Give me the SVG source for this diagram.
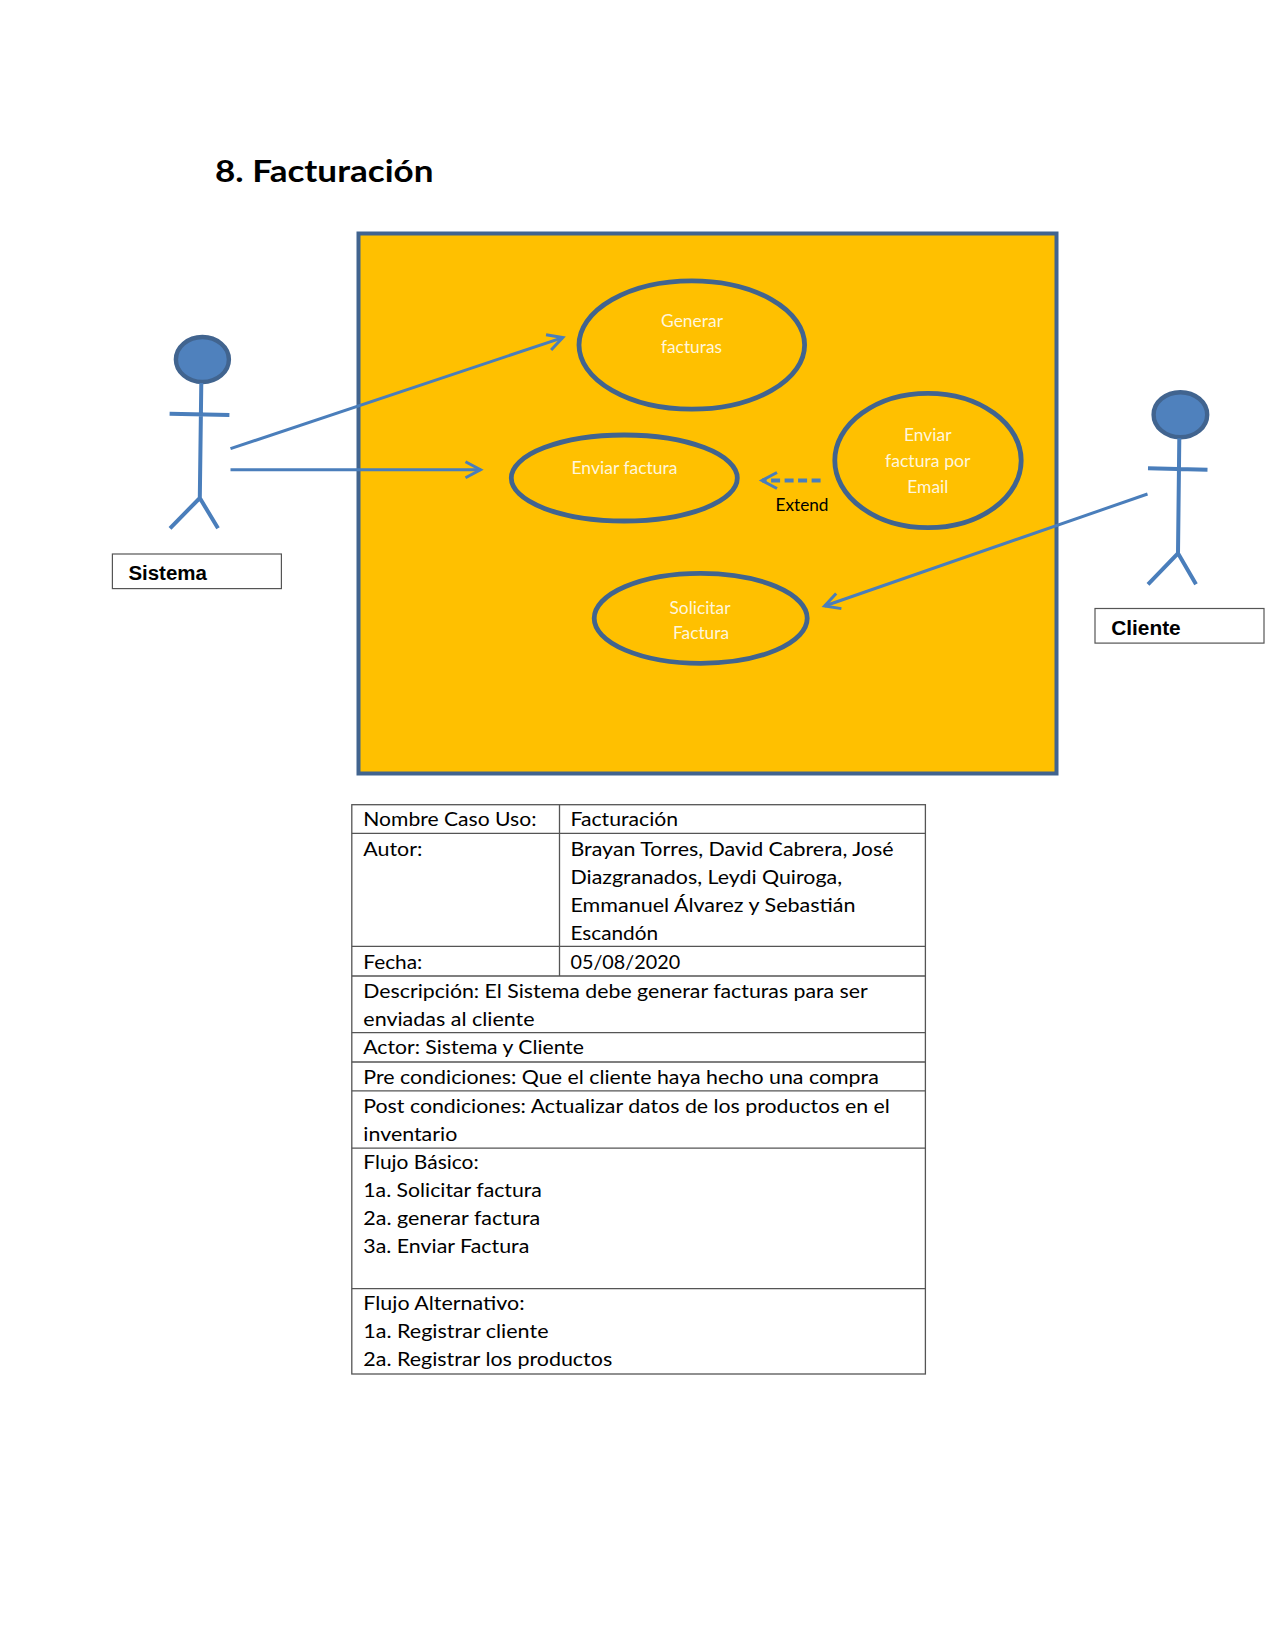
<svg xmlns="http://www.w3.org/2000/svg" width="1275" height="1650" viewBox="0 0 1275 1650">
<style>
text{font-family:"Lato","Carlito","Liberation Sans",sans-serif}
.title{font-size:30px;font-weight:700;fill:#000}
.uc{fill:none;stroke:#41648f;stroke-width:4.8}
.ut{font-size:17px;fill:#fff6dc}
.limb{fill:none;stroke:#4a7ebb;stroke-width:4}
.head{fill:#4f81bd;stroke:#41648f;stroke-width:4.4}
.lbl{fill:#fff;stroke:#555;stroke-width:1.2}
.lt{font-family:"Liberation Sans",Arial,sans-serif;font-size:20px;font-weight:700;fill:#000}
.conn{fill:none;stroke:#4a7ebb;stroke-width:3;marker-end:url(#open)}
.cell{fill:none;stroke:#555;stroke-width:1.3}
.tt{font-size:19.5px;fill:#000}
</style>
<defs>
<marker id="open" markerUnits="userSpaceOnUse" markerWidth="22" markerHeight="22" refX="16" refY="10" orient="auto" overflow="visible">
<path d="M1,2 L16,10 L1,18" fill="none" stroke="#4a7ebb" stroke-width="3"/>
</marker>
</defs>
<rect width="1275" height="1650" fill="#fff"/>
<text class="title" x="215" y="182" textLength="218.5" lengthAdjust="spacingAndGlyphs">8. Facturación</text>
<g id="system-boundary"><rect x="358.5" y="233.5" width="698" height="540" fill="#FFC000" stroke="#41648f" stroke-width="4"/></g>
<g id="uc-generar"><ellipse class="uc" cx="691.8" cy="345" rx="112.8" ry="64.2"/>
<text class="ut" x="661" y="326.7" textLength="62" lengthAdjust="spacingAndGlyphs">Generar</text>
<text class="ut" x="661" y="352.7" textLength="61" lengthAdjust="spacingAndGlyphs">facturas</text></g>
<g id="uc-enviar"><ellipse class="uc" cx="624.3" cy="478" rx="113" ry="43"/>
<text class="ut" x="571.5" y="473.7" textLength="106" lengthAdjust="spacingAndGlyphs">Enviar factura</text></g>
<g id="uc-email"><ellipse class="uc" cx="928" cy="460.5" rx="93.2" ry="67.2"/>
<text class="ut" x="904" y="441" textLength="47.5" lengthAdjust="spacingAndGlyphs">Enviar</text>
<text class="ut" x="885" y="466.7" textLength="85.5" lengthAdjust="spacingAndGlyphs">factura por</text>
<text class="ut" x="907.3" y="492.7" textLength="41" lengthAdjust="spacingAndGlyphs">Email</text></g>
<g id="uc-solicitar"><ellipse class="uc" cx="700.7" cy="618.3" rx="106.5" ry="45"/>
<text class="ut" x="669.5" y="614" textLength="61" lengthAdjust="spacingAndGlyphs">Solicitar</text>
<text class="ut" x="673" y="638.7" textLength="56" lengthAdjust="spacingAndGlyphs">Factura</text></g>
<g id="actor-sistema"><ellipse class="head" cx="202.4" cy="359.5" rx="26.5" ry="22.5"/>
<path class="limb" d="M201.3,383 L199.8,498 M169.6,413.7 L229.4,415 M170,528.3 L199.8,498 L218,528.3"/>
<rect class="lbl" x="112.4" y="554" width="169" height="34.6"/>
<text class="lt" x="128.4" y="580.2" textLength="78.5" lengthAdjust="spacingAndGlyphs">Sistema</text></g>
<g id="actor-cliente"><ellipse class="head" cx="1180.4" cy="414.7" rx="26.8" ry="22.5"/>
<path class="limb" d="M1179.3,438.3 L1178,553.3 M1148,468.3 L1207.5,469.7 M1148,584.3 L1178,553.3 L1196,584.3"/>
<rect class="lbl" x="1095" y="608.5" width="169" height="34.6"/>
<text class="lt" x="1111.2" y="634.6" textLength="69.5" lengthAdjust="spacingAndGlyphs">Cliente</text></g>
<g id="connectors">
<line class="conn" x1="230.5" y1="448.7" x2="562.8" y2="337.6"/>
<line class="conn" x1="230.5" y1="469.7" x2="480.5" y2="469.7"/>
<line class="conn" x1="1147.5" y1="494" x2="824.6" y2="606"/>
<line class="conn" x1="820.6" y1="480.5" x2="762" y2="480.5" stroke-dasharray="9 4.5" style="stroke-width:3.8"/>
</g>
<text id="extend-label" x="775.5" y="511" font-size="17" fill="#000" textLength="53" lengthAdjust="spacingAndGlyphs">Extend</text>
<g id="table">
<rect class="cell" x="351.8" y="804.7" width="573.6" height="569.3"/>
<path class="cell" d="M559.5,804.7 V975.7 M351.8,833.3 H925.4 M351.8,946.3 H925.4 M351.8,976 H925.4 M351.8,1032.6 H925.4 M351.8,1062 H925.4 M351.8,1090.8 H925.4 M351.8,1148.2 H925.4 M351.8,1288.7 H925.4"/>
<text class="tt" x="363.3" y="826.4" textLength="173.2" lengthAdjust="spacingAndGlyphs">Nombre Caso Uso:</text>
<text class="tt" x="570.5" y="826.4" textLength="107.6" lengthAdjust="spacingAndGlyphs">Facturación</text>
<text class="tt" x="363.3" y="856" textLength="59" lengthAdjust="spacingAndGlyphs">Autor:</text>
<text class="tt" x="570.5" y="856" textLength="323" lengthAdjust="spacingAndGlyphs">Brayan Torres, David Cabrera, José</text>
<text class="tt" x="570.5" y="884" textLength="271.5" lengthAdjust="spacingAndGlyphs">Diazgranados, Leydi Quiroga,</text>
<text class="tt" x="570.5" y="912" textLength="285" lengthAdjust="spacingAndGlyphs">Emmanuel Álvarez y Sebastián</text>
<text class="tt" x="570.5" y="939.7" textLength="87.6" lengthAdjust="spacingAndGlyphs">Escandón</text>
<text class="tt" x="363.3" y="969" textLength="59" lengthAdjust="spacingAndGlyphs">Fecha:</text>
<text class="tt" x="570.5" y="969" textLength="109.6" lengthAdjust="spacingAndGlyphs">05/08/2020</text>
<text class="tt" x="363.3" y="997.7" textLength="504.5" lengthAdjust="spacingAndGlyphs">Descripción: El Sistema debe generar facturas para ser</text>
<text class="tt" x="363.3" y="1025.7" textLength="171.3" lengthAdjust="spacingAndGlyphs">enviadas al cliente</text>
<text class="tt" x="363.3" y="1054.3" textLength="220.7" lengthAdjust="spacingAndGlyphs">Actor: Sistema y Cliente</text>
<text class="tt" x="363.3" y="1084" textLength="515.5" lengthAdjust="spacingAndGlyphs">Pre condiciones: Que el cliente haya hecho una compra</text>
<text class="tt" x="363.3" y="1112.7" textLength="526.5" lengthAdjust="spacingAndGlyphs">Post condiciones: Actualizar datos de los productos en el</text>
<text class="tt" x="363.3" y="1140.7" textLength="94" lengthAdjust="spacingAndGlyphs">inventario</text>
<text class="tt" x="363.3" y="1169" textLength="115.4" lengthAdjust="spacingAndGlyphs">Flujo Básico:</text>
<text class="tt" x="363.3" y="1197" textLength="178.6" lengthAdjust="spacingAndGlyphs">1a. Solicitar factura</text>
<text class="tt" x="363.3" y="1225" textLength="177" lengthAdjust="spacingAndGlyphs">2a. generar factura</text>
<text class="tt" x="363.3" y="1253.3" textLength="166" lengthAdjust="spacingAndGlyphs">3a. Enviar Factura</text>
<text class="tt" x="363.3" y="1310.4" textLength="161.3" lengthAdjust="spacingAndGlyphs">Flujo Alternativo:</text>
<text class="tt" x="363.3" y="1338.4" textLength="185.2" lengthAdjust="spacingAndGlyphs">1a. Registrar cliente</text>
<text class="tt" x="363.3" y="1366.4" textLength="248.9" lengthAdjust="spacingAndGlyphs">2a. Registrar los productos</text>
</g>
</svg>
